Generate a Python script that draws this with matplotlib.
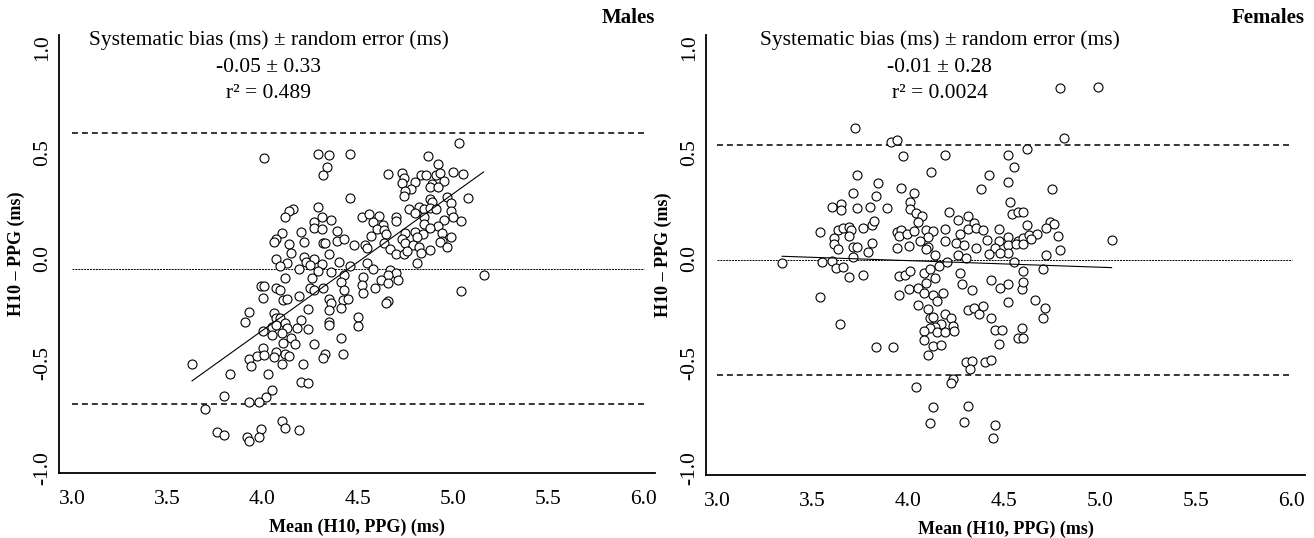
import numpy as np
import matplotlib
matplotlib.use("Agg")
import matplotlib.pyplot as plt

plt.rcParams['font.family'] = ['Liberation Serif', 'DejaVu Serif']

# Males: mean of both devices (ms) and difference H10 - PPG (ms)
males_mean = [
    4.01, 4.29, 4.35, 4.34, 4.32, 4.29, 4.16, 4.14, 4.12, 4.31, 4.36, 4.27, 4.27, 4.31,
    4.39, 4.10, 4.20, 4.07, 4.06, 4.22, 4.14, 4.32, 4.33, 4.39, 4.15, 4.35, 4.07, 4.22,
    4.27, 4.13, 4.23, 4.09, 4.19, 4.25, 4.31, 4.29, 4.36, 4.40, 4.12, 4.26,
    5.03, 4.46, 4.87, 4.92, 4.66, 4.73, 4.74, 4.83, 4.86, 4.91, 4.93, 5.00, 5.05, 4.73,
    4.80, 4.89, 4.95, 4.88, 4.78, 4.75, 4.74, 4.92, 4.46, 4.97, 5.08, 4.88, 4.89, 4.99,
    4.77, 4.82, 4.85, 4.88, 4.91, 4.80, 4.99, 4.52, 4.56, 4.61, 4.70, 4.58, 4.70, 4.85,
    5.00, 5.04, 4.95, 4.63, 4.60, 4.85, 4.92, 4.88, 4.64, 4.75, 4.80, 4.84, 4.94, 4.57,
    4.65, 4.43, 4.73, 4.81, 4.94, 4.99, 4.48, 4.54, 4.55, 4.64, 4.75, 4.79, 4.82, 4.93,
    4.97, 4.67, 4.70, 4.74, 4.76, 4.83, 4.88, 4.55, 4.46, 4.81, 4.58, 5.16, 4.67, 4.70,
    4.66, 4.53, 4.43,
    3.99, 4.01, 4.07, 4.09, 4.00, 4.11, 4.13, 4.19, 4.25, 4.27, 4.32, 4.41, 4.43, 4.42,
    4.45, 4.52, 4.53, 4.59, 4.62, 4.66, 4.71, 4.66, 4.65, 5.04, 4.35, 4.36, 4.35, 4.41,
    4.24, 3.93, 3.91, 4.06, 4.07, 4.09, 4.20, 4.35, 4.35, 4.50, 4.50, 4.05, 4.07, 4.12,
    4.13, 4.18, 4.24, 4.00, 4.05, 4.10, 4.15, 4.11, 4.17, 4.27, 4.41, 4.00, 4.07, 4.12,
    4.14, 3.93, 3.97, 4.01, 4.06, 3.94, 4.10, 4.21, 4.33, 4.32, 4.42, 3.63, 3.83, 4.03,
    4.20, 4.24, 4.05, 4.02, 3.80, 3.93, 3.98, 3.70, 4.10, 4.12, 3.99, 4.19, 3.76, 3.80,
    3.92, 3.98, 3.93,
]
males_diff = [
    0.478, 0.497, 0.492, 0.435, 0.394, 0.244, 0.235, 0.222, 0.195, 0.194, 0.181, 0.171, 0.143, 0.140,
    0.127, 0.120, 0.124, 0.092, 0.075, 0.078, 0.068, 0.073, 0.070, 0.081, 0.022, 0.019, -0.006, 0.006,
    -0.003, -0.024, -0.019, -0.038, -0.051, -0.035, -0.030, -0.060, -0.067, -0.018, -0.097, -0.097,
    0.546, 0.497, 0.487, 0.448, 0.399, 0.403, 0.380, 0.394, 0.394, 0.395, 0.403, 0.411, 0.400, 0.356,
    0.360, 0.352, 0.368, 0.337, 0.330, 0.318, 0.295, 0.337, 0.286, 0.292, 0.286, 0.282, 0.267, 0.263,
    0.232, 0.244, 0.233, 0.240, 0.235, 0.214, 0.222, 0.197, 0.211, 0.200, 0.197, 0.171, 0.176, 0.194,
    0.194, 0.178, 0.181, 0.156, 0.140, 0.160, 0.152, 0.143, 0.133, 0.118, 0.124, 0.114, 0.118, 0.106,
    0.114, 0.089, 0.090, 0.099, 0.081, 0.101, 0.063, 0.062, 0.049, 0.073, 0.070, 0.062, 0.051, 0.078,
    0.054, 0.041, 0.018, 0.019, 0.032, 0.022, 0.038, -0.024, -0.038, -0.025, -0.054, -0.081, -0.057, -0.073,
    -0.080, -0.089, -0.081,
    -0.135, -0.132, -0.141, -0.154, -0.189, -0.199, -0.195, -0.182, -0.144, -0.154, -0.144, -0.113, -0.154, -0.199,
    -0.195, -0.129, -0.168, -0.141, -0.105, -0.120, -0.105, -0.205, -0.214, -0.156, -0.195, -0.214, -0.249, -0.240,
    -0.243, -0.259, -0.303, -0.260, -0.287, -0.284, -0.295, -0.303, -0.319, -0.282, -0.322, -0.327, -0.319, -0.308,
    -0.335, -0.332, -0.340, -0.348, -0.367, -0.359, -0.382, -0.406, -0.411, -0.410, -0.380, -0.430, -0.449, -0.459,
    -0.467, -0.481, -0.465, -0.462, -0.471, -0.513, -0.503, -0.503, -0.459, -0.478, -0.456, -0.505, -0.552, -0.552,
    -0.592, -0.597, -0.629, -0.660, -0.656, -0.687, -0.687, -0.720, -0.776, -0.811, -0.814, -0.820, -0.830, -0.841,
    -0.851, -0.852, -0.870,
]

# Females
females_mean = [
    4.79, 4.99, 3.72, 3.91, 3.94, 4.81, 3.97, 4.19, 4.52, 4.62, 4.55, 3.73, 4.12, 4.42,
    3.84, 3.96, 4.52, 4.38, 4.75, 3.71, 3.83, 4.03, 4.01, 4.53, 3.60, 3.65, 3.65, 3.73,
    3.80, 3.89, 4.01, 4.04, 4.07, 4.05, 4.21, 4.26, 4.31, 4.34, 4.54, 4.57, 4.60, 4.62,
    4.74, 4.76, 4.72, 3.54, 3.63, 3.66, 3.69, 3.70, 3.76, 3.81, 3.82, 3.61, 3.69, 3.61,
    3.63, 3.71, 3.73, 3.81, 3.79, 3.94, 3.96, 3.95, 3.99, 4.03, 4.09, 4.13, 4.10, 4.06,
    4.00, 3.94, 4.10, 4.09, 4.19, 4.19, 4.27, 4.25, 4.29, 4.31, 4.35, 4.39, 4.47, 4.41,
    4.47, 4.52, 4.57, 4.60, 4.63, 4.67, 4.64, 4.78, 4.52, 4.56, 4.60, 4.45, 4.35, 4.52,
    4.79, 4.72, 5.06, 4.14, 4.26, 4.42, 4.48,
    3.34, 3.55, 3.60, 3.62, 3.66, 3.69, 3.76, 3.71, 3.54, 3.64, 3.83, 3.92, 3.95, 3.98,
    4.01, 4.08, 4.11, 4.16, 4.20, 4.30, 4.14, 4.09, 4.00, 4.05, 3.95, 4.08, 4.13, 4.18,
    4.15, 4.27, 4.28, 4.33, 4.43, 4.48, 4.52, 4.59, 4.60, 4.60, 4.55, 4.70, 4.52, 4.66,
    4.71, 4.70, 4.05, 4.10, 4.11, 4.13, 4.19, 4.22, 4.17, 4.14, 4.11, 4.08, 4.15, 4.19,
    4.23, 4.24, 4.31, 4.34, 4.37, 4.39, 4.43, 4.45, 4.49, 4.47, 4.59, 4.57, 4.60, 4.08,
    4.13, 4.17, 4.10, 4.30, 4.33, 4.32, 4.40, 4.43, 4.04, 4.23, 4.22, 4.13, 4.31, 4.11,
    4.29, 4.45, 4.44,
]
females_diff = [
    0.808, 0.816, 0.620, 0.554, 0.560, 0.570, 0.487, 0.490, 0.490, 0.518, 0.435, 0.395, 0.408, 0.395,
    0.356, 0.332, 0.360, 0.327, 0.327, 0.311, 0.295, 0.311, 0.265, 0.265, 0.244, 0.256, 0.229, 0.237,
    0.241, 0.240, 0.233, 0.213, 0.200, 0.173, 0.218, 0.181, 0.201, 0.165, 0.210, 0.218, 0.218, 0.157,
    0.173, 0.162, 0.141, 0.122, 0.133, 0.141, 0.149, 0.132, 0.141, 0.157, 0.176, 0.094, 0.105, 0.065,
    0.043, 0.054, 0.054, 0.073, 0.030, 0.125, 0.133, 0.105, 0.113, 0.129, 0.133, 0.130, 0.101, 0.082,
    0.059, 0.046, 0.054, 0.043, 0.138, 0.082, 0.113, 0.070, 0.062, 0.138, 0.141, 0.133, 0.138, 0.086,
    0.082, 0.099, 0.082, 0.094, 0.110, 0.113, 0.089, 0.105, 0.062, 0.067, 0.067, 0.049, 0.046, 0.025,
    0.038, 0.014, 0.086, 0.014, 0.014, 0.018, 0.022,
    -0.025, -0.018, -0.014, -0.046, -0.041, -0.089, -0.081, 0.006, -0.184, -0.316, -0.422, -0.422, -0.084, -0.081,
    -0.060, -0.073, -0.052, -0.037, -0.018, -0.001, -0.097, -0.118, -0.149, -0.141, -0.176, -0.168, -0.176, -0.165,
    -0.203, -0.073, -0.125, -0.152, -0.105, -0.141, -0.125, -0.148, -0.116, -0.060, -0.018, -0.052, -0.208, -0.200,
    -0.240, -0.284, -0.224, -0.244, -0.287, -0.280, -0.268, -0.284, -0.316, -0.327, -0.335, -0.346, -0.351, -0.354,
    -0.322, -0.348, -0.248, -0.240, -0.267, -0.227, -0.287, -0.344, -0.343, -0.411, -0.335, -0.382, -0.380, -0.392,
    -0.418, -0.414, -0.462, -0.494, -0.490, -0.527, -0.497, -0.486, -0.616, -0.578, -0.597, -0.708, -0.705, -0.784,
    -0.780, -0.794, -0.859,
]

males_bias, males_err = -0.05, 0.33
females_bias, females_err = -0.01, 0.28
males_r2 = "r² = 0.489"
females_r2 = "r² = 0.0024"

x_ticks = [3.0, 3.5, 4.0, 4.5, 5.0, 5.5, 6.0]
x_labels = ["3.0", "3.5", "4.0", "4.5", "5.0", "5.5", "6.0"]
y_ticks = [-1.0, -0.5, 0.0, 0.5, 1.0]
y_labels = ["-1.0", "-0.5", "0.0", "0.5", "1.0"]

FS = 15.5


def bland_altman(ax, mean, diff, bias, err, title, xlim, ylim):
    mean = np.asarray(mean)
    diff = np.asarray(diff)

    upper = bias + 1.96 * err
    lower = bias - 1.96 * err
    ax.hlines([upper, lower], 3.0, 6.0, colors='black', lw=1.1,
              linestyles=[(0, (3.9, 2.6))])
    ax.hlines(bias, 3.0, 6.0, colors='black', lw=0.7, linestyles=[(0, (2, 1))])

    ax.scatter(mean, diff, s=42, facecolors='white', edgecolors='black',
               linewidths=0.8, zorder=3)

    # linear trend of the difference against the mean
    k, b = np.polyfit(mean, diff, 1)
    xs = np.array([mean.min(), mean.max()])
    ax.plot(xs, k * xs + b, color='black', lw=0.8, zorder=4)

    ax.set_xlim(*xlim)
    ax.set_ylim(*ylim)
    ax.set_xticks(x_ticks, x_labels)
    ax.set_yticks(y_ticks, y_labels)
    ax.tick_params(axis='both', length=0, labelsize=FS)
    ax.tick_params(axis='x', pad=12)
    ax.tick_params(axis='y', pad=5)
    for lab in ax.get_yticklabels():
        lab.set_rotation(90)
        lab.set_va('center')

    for side in ['top', 'right']:
        ax.spines[side].set_visible(False)
    for side in ['left', 'bottom']:
        ax.spines[side].set_linewidth(1.3)

    ax.set_xlabel("Mean (H10, PPG) (ms)", fontsize=13, fontweight='bold', va='center')
    ax.xaxis.set_label_coords(0.5, -0.123)
    ax.set_ylabel("H10 – PPG (ms)", fontsize=13, fontweight='bold', va='center')
    ax.yaxis.set_label_coords(-0.072, 0.5)

    ax.text(1.0, 1.039, title, transform=ax.transAxes, ha='right', va='center',
            fontsize=15, fontweight='bold')
    return ax


fig = plt.figure(figsize=(13.14, 5.38), dpi=100)
ax1 = fig.add_axes([0.0449, 0.1208, 0.4536, 0.8141])
ax2 = fig.add_axes([0.5373, 0.1171, 0.4559, 0.8178])

bland_altman(ax1, males_mean, males_diff, males_bias, males_err, "Males",
             (2.932, 6.060), (-1.024, 1.062))
bland_altman(ax2, females_mean, females_diff, females_bias, females_err, "Females",
             (2.943, 6.070), (-1.033, 1.062))

for ax, cx, bias, err, r2 in [(ax1, 0.352, males_bias, males_err, males_r2),
                              (ax2, 0.390, females_bias, females_err, females_r2)]:
    ax.text(cx, 0.989, "Systematic bias (ms) ± random error (ms)", transform=ax.transAxes,
            ha='center', va='center', fontsize=FS)
    ax.text(cx, 0.926, f"{bias:.2f} ± {err:.2f}", transform=ax.transAxes,
            ha='center', va='center', fontsize=FS)
    ax.text(cx, 0.866, r2, transform=ax.transAxes, ha='center', va='center', fontsize=FS)

fig.savefig("out.png", dpi=100)
